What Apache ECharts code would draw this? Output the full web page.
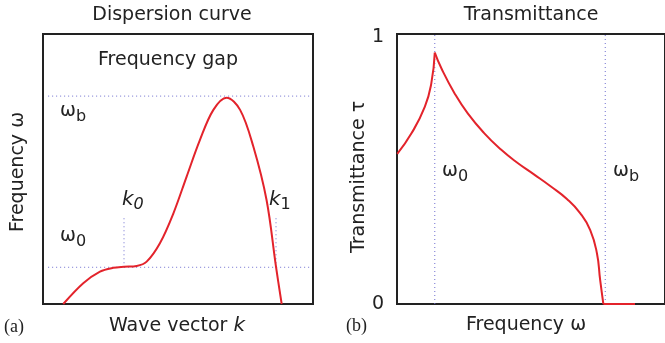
<!DOCTYPE html>
<html>
<head>
<meta charset="utf-8">
<script src="https://cdn.jsdelivr.net/npm/echarts@6/dist/echarts.min.js"></script>
<style>
  html, body { margin: 0; padding: 0; background: #fff; }
  #main { width: 665px; height: 343px; }
</style>
</head>
<body>
<div id="main"></div>
<script>
// (a) dispersion curve, both axes scaled 0..1
var dispK = [0.075, 0.149, 0.211, 0.26, 0.30, 0.347, 0.384, 0.433, 0.483, 0.532, 0.581, 0.631, 0.680, 0.730, 0.779, 0.828, 0.863, 0.884];
var dispW = [0, 0.077, 0.12, 0.134, 0.138, 0.141, 0.157, 0.225, 0.336, 0.472, 0.607, 0.719, 0.764, 0.719, 0.583, 0.385, 0.138, 0];
var gapLevels = [0.136, 0.770];      // omega_0, omega_b
var gapSpan = [0.019, 0.989];
var kMarks = [0.30, 0.863];          // k0, k1
var kMarkTop = 0.326;

// (b) transmittance, split at the cusp and at the band edge
var riseW = [0.001, 0.054, 0.104, 0.128, 0.141];
var riseT = [0.556, 0.632, 0.731, 0.817, 0.931];
var fallW = [0.141, 0.166, 0.215, 0.264, 0.326, 0.388, 0.449, 0.511, 0.573, 0.634, 0.684, 0.721, 0.746, 0.758, 0.770];
var fallT = [0.931, 0.872, 0.780, 0.706, 0.632, 0.572, 0.523, 0.480, 0.436, 0.389, 0.336, 0.274, 0.188, 0.089, 0];
var stopW = [0.770, 0.888];
var stopT = [0, 0];
var freqMarks = [0.141, 0.777];      // omega_0, omega_b
var tauTicks = ['0', '1'];

var RED = '#e3232b';
var DOT = '#6f6fd0';
var INK = '#222';
var FONT = 'DejaVu Sans';

function pairs(xs, ys) {
    return xs.map(function (x, i) { return [x, ys[i]]; });
}

function curve(xs, ys, idx, smooth) {
    return {
        type: 'line', xAxisIndex: idx, yAxisIndex: idx,
        data: pairs(xs, ys), smooth: smooth, symbol: 'none', z: 3,
        lineStyle: { color: RED, width: 2 }
    };
}

function dotted(data, idx) {
    return {
        type: 'line', xAxisIndex: idx, yAxisIndex: idx,
        data: data, symbol: 'none', z: 2,
        lineStyle: { color: DOT, width: 1, type: [1, 3] }
    };
}

var series = [];
series.push(curve(dispK, dispW, 0, 0.35));
gapLevels.forEach(function (w) {
    series.push(dotted([[gapSpan[0], w], [gapSpan[1], w]], 0));
});
kMarks.forEach(function (k) {
    series.push(dotted([[k, gapLevels[0]], [k, kMarkTop]], 0));
});
freqMarks.forEach(function (w) {
    series.push(dotted([[w, 0], [w, 1]], 1));
});
series.push(curve(riseW, riseT, 1, 0.5));
series.push(curve(fallW, fallT, 1, 0.5));
series.push(curve(stopW, stopT, 1, 0));

var sub = {
    m: { fontFamily: FONT, fontSize: 19, color: INK },
    s: { fontFamily: FONT, fontSize: 16, color: INK, padding: [12, 0, 0, 0] },
    k: { fontFamily: FONT, fontSize: 20, color: INK, fontStyle: 'italic' },
    ki: { fontFamily: FONT, fontSize: 16, color: INK, fontStyle: 'italic', padding: [10, 0, 0, 0] },
    ks: { fontFamily: FONT, fontSize: 16, color: INK, padding: [10, 0, 0, 0] },
    top: { fontFamily: FONT, fontSize: 19, color: INK, padding: [6, 0, 0, 0] }
};

function txt(x, y, text, opts) {
    opts = opts || {};
    return {
        type: 'text', x: x, y: y, rotation: opts.rot || 0, z: 10,
        style: {
            text: text, rich: sub,
            fontFamily: opts.family || FONT, fontSize: opts.size || 19,
            fill: INK, align: opts.align || 'center', verticalAlign: 'middle'
        }
    };
}

var chart = echarts.init(document.getElementById('main'));

chart.setOption({
    animation: false,
    backgroundColor: '#fff',
    grid: [
        { left: 43, top: 34, width: 270, height: 270, show: true, borderColor: INK, borderWidth: 2 },
        { left: 397, top: 34, width: 270, height: 270, show: true, borderColor: INK, borderWidth: 2 }
    ],
    xAxis: [
        { type: 'value', gridIndex: 0, min: 0, max: 1, show: false },
        { type: 'value', gridIndex: 1, min: 0, max: 1, show: false }
    ],
    yAxis: [
        { type: 'value', gridIndex: 0, min: 0, max: 1, show: false },
        {
            type: 'value', gridIndex: 1, min: 0, max: 1, interval: 1,
            axisLine: { show: false }, axisTick: { show: false }, splitLine: { show: false },
            axisLabel: {
                margin: 13, fontFamily: FONT, fontSize: 19, color: INK,
                rich: sub,
                formatter: function (v) { return v ? '{top|' + tauTicks[v] + '}' : tauTicks[v]; }
            }
        }
    ],
    series: series,
    graphic: [
        txt(172, 15, 'Dispersion curve'),
        txt(168, 60, 'Frequency gap'),
        txt(18, 172, 'Frequency ω', { rot: Math.PI / 2 }),
        txt(177, 326, 'Wave vector {k|k}'),
        txt(4, 327, '(a)', { align: 'left', family: 'Liberation Serif', size: 18 }),
        txt(60, 111, '{m|ω}{s|b}', { align: 'left' }),
        txt(60, 236, '{m|ω}{s|0}', { align: 'left' }),
        txt(122, 200, '{k|k}{ki|0}', { align: 'left' }),
        txt(269, 200, '{k|k}{ks|1}', { align: 'left' }),

        txt(531, 15, 'Transmittance'),
        txt(359, 177, 'Transmittance τ', { rot: Math.PI / 2 }),
        txt(526, 325, 'Frequency ω'),
        txt(346, 326, '(b)', { align: 'left', family: 'Liberation Serif', size: 18 }),
        txt(442, 171, '{m|ω}{s|0}', { align: 'left' }),
        txt(613, 171, '{m|ω}{s|b}', { align: 'left' })
    ]
});
</script>
</body>
</html>
